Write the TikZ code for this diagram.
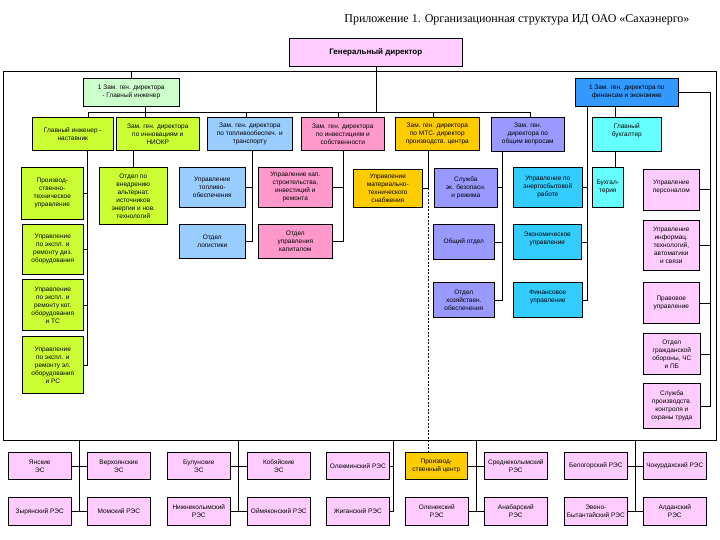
\documentclass[tikz,border=0pt]{standalone}
\usepackage{fontspec}
\setmainfont{Liberation Sans}
\newfontfamily\titlefont{Liberation Serif}
\usepackage{xcolor}
\definecolor{FillViolet}{RGB}{255,204,255}
\definecolor{FillMint}{RGB}{204,255,204}
\definecolor{FillAzure}{RGB}{51,153,255}
\definecolor{FillLime}{RGB}{204,255,51}
\definecolor{FillSky}{RGB}{153,204,255}
\definecolor{FillRose}{RGB}{255,153,204}
\definecolor{FillGold}{RGB}{255,204,0}
\definecolor{FillPeri}{RGB}{153,153,255}
\definecolor{FillAqua}{RGB}{102,255,255}
\definecolor{FillCyan}{RGB}{51,204,255}
\usepackage{tikz}
\usetikzlibrary{positioning, calc}
\tikzset{
  % Generic unit box (anchored at its top-left corner)
  unit/.style={
    rectangle, draw=black, line width=0.6pt,
    anchor=north west, align=center,
    inner sep=1pt,
    font=\fontsize{6.5}{8}\selectfont
  },
  % Colored box variants
  unit violet/.style={unit, fill=FillViolet},
  unit mint/.style={unit, fill=FillMint},
  unit azure/.style={unit, fill=FillAzure},
  unit lime/.style={unit, fill=FillLime},
  unit sky/.style={unit, fill=FillSky},
  unit rose/.style={unit, fill=FillRose},
  unit gold/.style={unit, fill=FillGold},
  unit peri/.style={unit, fill=FillPeri},
  unit aqua/.style={unit, fill=FillAqua},
  unit cyan/.style={unit, fill=FillCyan},
  % Connectors
  link/.style={line width=0.6pt, black},
  dlink/.style={line width=0.6pt, black, dashed, dash pattern=on 2pt off 1.5pt},
}
\begin{document}
\begin{tikzpicture}[x=1pt, y=-1pt]
  \useasboundingbox (0,0) rectangle (720,540);

  %% Title
  \node[font=\titlefont\fontsize{12}{14}\selectfont, anchor=east] (title) at (693,20)
    {Приложение 1. Организационная структура ИД ОАО «Сахаэнерго»};

  %% Frame
  \coordinate (frNW) at (3,71);
  \coordinate (frSE) at (716,440);
  \draw[link] (frNW) rectangle (frSE);

  %% Top levels
  \node[unit violet, minimum width=173, minimum height=28,
        font=\fontsize{8}{9}\selectfont\bfseries] (gd) at (289,38) {Генеральный директор};
  \node[unit mint, minimum width=96, minimum height=28] (zg) at (83,78)
    {1 Зам. ген. директора\\- Главный инженер};
  \node[unit azure, minimum width=103, minimum height=28] (zf) at (575,78)
    {1 Зам. ген. директора по\\финансам и экономике};

  %% Deputies
  \node[unit lime, minimum width=81, minimum height=33] (gi) at (32,117)
    {Главный инженер -\\наставник};
  \node[unit lime, minimum width=83, minimum height=33] (zin) at (116,117)
    {Зам. ген. директора\\по инновациям и\\НИОКР};
  \node[unit sky, minimum width=85, minimum height=33] (ztp) at (207,117)
    {Зам. ген. директора\\по топливообеспеч. и\\транспорту};
  \node[unit rose, minimum width=83, minimum height=33] (zinv) at (301,117)
    {Зам. ген. директора\\по инвестициям и\\собственности};
  \node[unit gold, minimum width=84, minimum height=33] (zmts) at (395,117)
    {Зам. ген. директора\\по МТС- директор\\производств. центра};
  \node[unit peri, minimum width=73, minimum height=34] (zob) at (491,117)
    {Зам. ген.\\директора по\\общим вопросам};
  \node[unit aqua, minimum width=69, minimum height=34] (gb) at (592,117)
    {Главный\\бухгалтер\\~};

  %% Departments
  \node[unit lime, minimum width=62, minimum height=52] (pto) at (21,167)
    {Производ-\\ственно-\\техническое\\управление};
  \node[unit lime, minimum width=68, minimum height=57] (oav) at (99,167)
    {Отдел по\\внедрению\\альтернат.\\источников\\энергии и нов.\\технологий};
  \node[unit sky, minimum width=66, minimum height=40] (utp) at (179,167)
    {Управление\\топливо-\\обеспечения};
  \node[unit rose, minimum width=74, minimum height=40] (ukc) at (258,167)
    {Управление кап.\\строительства,\\инвестиций и\\ремонта};
  \node[unit gold, minimum width=69, minimum height=38] (umts) at (353,169)
    {Управление\\материально-\\технического\\снабжения};
  \node[unit peri, minimum width=63, minimum height=39] (seb) at (434,168)
    {Служба\\эк. безопасн.\\и режима};
  \node[unit cyan, minimum width=69, minimum height=40] (ues) at (513,167)
    {Управление по\\энергосбытовой\\работе};
  \node[unit aqua, minimum width=31, minimum height=40] (buh) at (592,167)
    {Бухгал-\\терия};
  \node[unit violet, minimum width=56, minimum height=41] (upers) at (643,169)
    {Управление\\персоналом\\~};

  \node[unit lime, minimum width=61, minimum height=50] (udz) at (22,224)
    {Управление\\по экспл. и\\ремонту диз.\\оборудования};
  \node[unit sky, minimum width=66, minimum height=34] (olog) at (179,224)
    {Отдел\\логистики};
  \node[unit rose, minimum width=74, minimum height=34] (oupk) at (258,224)
    {Отдел\\управления\\капиталом};
  \node[unit peri, minimum width=61, minimum height=35] (oo) at (433,224)
    {Общий отдел};
  \node[unit cyan, minimum width=68, minimum height=35] (eu) at (513,224)
    {Экономическое\\управление\\~};
  \node[unit violet, minimum width=56, minimum height=50] (uit) at (643,220)
    {Управление\\информац.\\технологий,\\автоматики\\и связи};

  \node[unit lime, minimum width=61, minimum height=51] (ukt) at (22,279)
    {Управление\\по экспл. и\\ремонту кот.\\оборудования\\и ТС};
  \node[unit peri, minimum width=61, minimum height=35] (oho) at (433,282)
    {Отдел\\хозяйствен.\\обеспечения};
  \node[unit cyan, minimum width=69, minimum height=35] (fu) at (513,282)
    {Финансовое\\управление\\~};
  \node[unit violet, minimum width=56, minimum height=41] (pu) at (643,282)
    {Правовое\\управление};

  \node[unit lime, minimum width=61, minimum height=57] (uel) at (22,336)
    {Управление\\по экспл. и\\ремонту эл.\\оборудования\\и РС};
  \node[unit violet, minimum width=57, minimum height=41] (ogo) at (643,333)
    {Отдел\\гражданской\\обороны, ЧС\\и ПБ};
  \node[unit violet, minimum width=57, minimum height=45] (spk) at (643,383)
    {Служба\\производств.\\контроля и\\охраны труда};

  %% Regional branches
  \foreach \nm/\x/\txt in {yan/8/{Янские\\ЭС}, ver/87/{Верхоянские\\ЭС},
      bul/167/{Булунские\\ЭС}, kob/247/{Кобяйские\\ЭС}, olek/326/{Олекминский РЭС},
      srk/484/{Среднеколымский\\РЭС}, bel/564/{Белогорский РЭС}, chok/643/{Чокурдахский РЭС}}
    \node[unit violet, minimum width=63, minimum height=27] (\nm) at (\x,452) {\txt};
  \node[unit gold, minimum width=62, minimum height=27] (prc) at (405,452)
    {Производ-\\ственный центр};
  \foreach \nm/\x/\txt in {zyr/8/{Зырянский РЭС}, mom/87/{Момский РЭС},
      nkl/167/{Нижнеколымский\\РЭС}, oym/247/{Оймяконский РЭС}, zhig/326/{Жиганский РЭС},
      olen/405/{Оленекский\\РЭС}, anab/484/{Анабарский\\РЭС},
      even/564/{Эвено-\\Бытантайский РЭС}, ald/643/{Алданский\\РЭС}}
    \node[unit violet, minimum width=63, minimum height=28] (\nm) at (\x,497) {\txt};

  %% Top connectors
  \coordinate (busA) at (88,112);
  \coordinate (busB) at (530,112);
  \draw[link] (busA) -- (busB);
  \draw[link] (gd.south) -- (gd.south |- busA);
  \draw[link] (zg.north) -- (zg.north |- frNW);
  \foreach \n/\x in {gi/88, zin/145, ztp/246, zinv/338, zmts/433, zob/530}{
    \coordinate (bus\n) at (\x,112);
    \draw[link] (bus\n) -- (bus\n |- \n.north);
  }
  \draw[link] (buszin) -- (buszin |- zg.south);

  %% Column lines
  \coordinate (cGi) at (87,0);
  \coordinate (cTp) at (252,0);
  \coordinate (cInv) at (343,0);
  \coordinate (cMts) at (428,0);
  \coordinate (cOb) at (502,0);
  \coordinate (cFin) at (587,0);
  \coordinate (cGb) at (615,0);
  \coordinate (cRt) at (710,0);

  \draw[link] (cGi |- gi.south) -- (cGi |- uel.east) -- (uel.east);
  \foreach \n in {pto, udz, ukt} \draw[link] (\n.east) -- (\n.east -| cGi);
  \draw[link] (oav.north |- zin.south) -- (oav.north);
  \draw[link] (cTp |- ztp.south) -- (cTp |- olog.east) -- (olog.east);
  \draw[link] (utp.east) -- (utp.east -| cTp);
  \draw[link] (cInv |- zinv.south) -- (cInv |- oupk.east) -- (oupk.east);
  \draw[link] (ukc.east) -- (ukc.east -| cInv);
  \draw[link] (cMts |- zmts.south) -- (cMts |- umts.east) -- (umts.east);
  \draw[dlink] (cMts |- umts.east) -- (cMts |- prc.north);
  \draw[link] (cOb |- zob.south) -- (cOb |- oho.east) -- (oho.east);
  \foreach \n in {seb, oo} \draw[link] (\n.east) -- (\n.east -| cOb);
  \draw[link] (cFin |- zf.south) -- (cFin |- fu.east) -- (fu.east);
  \foreach \n in {ues, eu} \draw[link] (\n.east) -- (\n.east -| cFin);
  \draw[link] (cGb |- zf.south) -- (cGb |- gb.north);
  \draw[link] (cGb |- gb.south) -- (cGb |- buh.north);
  \draw[link] (zf.east) -- (zf.east -| cRt) -- (cRt |- spk.east) -- (spk.east);
  \foreach \n in {upers, uit, pu, ogo} \draw[link] (\n.east) -- (\n.east -| cRt);

  %% Branch connectors
  \foreach \a/\b/\c/\d/\x in {yan/ver/zyr/mom/79, bul/kob/nkl/oym/238,
      srk/srk/anab/anab/476, bel/chok/even/ald/635}{
    \coordinate (v\a) at (\x,440);
    \draw[link] (v\a) -- (v\a |- \c.east);
  }
  \draw[link] (yan.east) -- (ver.west);
  \draw[link] (zyr.east) -- (mom.west);
  \draw[link] (bul.east) -- (kob.west);
  \draw[link] (nkl.east) -- (oym.west);
  \draw[link] (prc.east) -- (srk.west);
  \draw[link] (olen.east) -- (anab.west);
  \draw[link] (bel.east) -- (chok.west);
  \draw[link] (even.east) -- (ald.west);
  \coordinate (vOl) at (393,440);
  \draw[link] (vOl) -- (vOl |- zhig.east) -- (zhig.east);
  \draw[link] (olek.east) -- (olek.east -| vOl);
\end{tikzpicture}
\end{document}
